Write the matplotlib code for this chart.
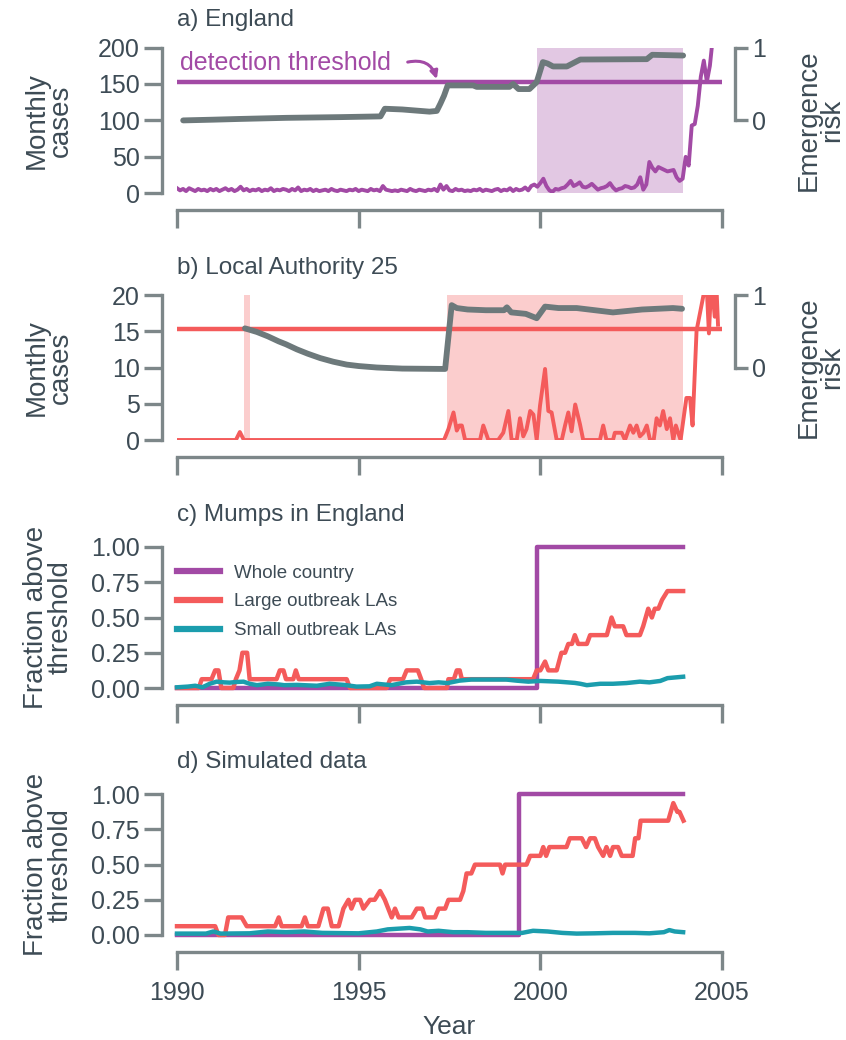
import numpy as np
import matplotlib
matplotlib.use("Agg")
import matplotlib.pyplot as plt
from matplotlib.ticker import FormatStrFormatter
from matplotlib.lines import Line2D

# ---------------- data ----------------
years_ticks = [1990, 1995, 2000, 2005]

# a) England monthly cases (monthly from Jan 1990)
eng_cases = [
    7, 4, 6, 3, 7, 5, 3, 6, 4, 5, 3, 6,
    4, 6, 3, 5, 7, 4, 6, 3, 5, 9, 4, 6,
    3, 5, 4, 6, 3, 5, 4, 7, 3, 5, 4, 6,
    5, 3, 6, 4, 8, 3, 5, 4, 6, 3, 5, 3,
    4, 5, 3, 6, 4, 3, 5, 4, 3, 5, 4, 6,
    3, 5, 4, 3, 6, 4, 5, 3, 10, 5, 4, 3,
    4, 3, 5, 4, 3, 6, 4, 3, 5, 4, 3, 5,
    4, 6, 3, 12, 5, 10, 4, 3, 6, 4, 5, 3,
    4, 3, 5, 4, 6, 3, 5, 4, 3, 5, 6, 3,
    5, 4, 7, 3, 6, 4, 5, 8, 4, 10, 12, 9,
    14, 20, 10, 4, 2, 6, 5, 7, 8, 12, 17, 10,
    12, 15, 9, 8, 10, 13, 9, 5, 7, 8, 10, 14,
    8, 4, 6, 7, 10, 9, 7, 8, 12, 22, 5, 12,
    43, 35, 30, 36, 34, 32, 30, 31, 32, 22, 17, 20,
    50, 38, 93, 95, 120, 160, 182, 153, 175, 215,
]
eng_threshold = 153
eng_risk_x = [1990.17, 1991.0, 1991.73, 1993.0, 1994.5, 1995.6, 1995.72, 1996.2,
              1996.95, 1997.15, 1997.25, 1997.35, 1997.45, 1998.15, 1998.25,
              1999.15, 1999.25, 1999.4, 1999.7, 1999.9, 2000.07, 2000.2, 2000.35,
              2000.73, 2001.0, 2001.1, 2002.93, 2003.08, 2003.93]
eng_risk_y = [0.0, 0.01, 0.02, 0.035, 0.045, 0.055, 0.16, 0.15,
              0.12, 0.13, 0.23, 0.34, 0.48, 0.48, 0.46,
              0.46, 0.50, 0.43, 0.43, 0.525, 0.80, 0.78, 0.74,
              0.74, 0.81, 0.835, 0.84, 0.90, 0.89]
eng_span = (1999.92, 2003.93)

# b) Local Authority 25
la_threshold = 15.3
la_cases_x = [1990.0, 1991.62, 1991.73, 1991.84, 1997.35, 1997.47, 1997.61, 1997.70,
              1997.77, 1997.84, 1997.93, 1998.34, 1998.43, 1998.57, 1998.84, 1998.98,
              1999.12, 1999.21, 1999.35, 1999.44, 1999.53, 1999.62, 1999.72, 1999.81,
              1999.90, 1999.99, 2000.13, 2000.22, 2000.31, 2000.45, 2000.59, 2000.68,
              2000.77, 2000.86, 2000.96, 2001.09, 2001.18, 2001.64, 2001.73, 2001.82,
              2002.0, 2002.05, 2002.24, 2002.33, 2002.47, 2002.56, 2002.65, 2002.74,
              2002.84, 2002.93, 2003.02, 2003.12, 2003.20, 2003.29, 2003.38, 2003.48,
              2003.57, 2003.66, 2003.73, 2003.86, 2004.02, 2004.12, 2004.19, 2004.30,
              2004.57, 2004.64, 2004.71, 2004.80, 2004.84, 2004.89]
la_cases_y = [0, 0, 1.1, 0, 0, 1.5, 3.8, 1.3,
              2, 2, 0, 0, 2, 0, 0, 1,
              4, 0, 0, 3, 0.5, 1.5, 4, 3.5,
              0, 4.7, 9.8, 4, 3.8, 0, 0, 2,
              3.8, 1.2, 4.9, 2.2, 0, 0, 2, 0,
              0, 1, 1, 0, 2, 1, 2, 0.5,
              1, 2, 0, 0, 3, 2, 4, 1.5,
              3, 0, 2, 0, 5.8, 5.8, 2, 15.1,
              22, 14.7, 22, 17, 22, 15.9]
la_risk_x = [1991.87, 1992.2, 1992.5, 1992.8, 1993.0, 1993.3, 1993.6, 1993.94,
             1994.3, 1994.67, 1995.0, 1995.5, 1996.2, 1997.38, 1997.56, 1997.7,
             1998.0, 1998.5, 1999.0, 1999.08, 1999.2, 1999.6, 1999.9, 2000.13,
             2000.5, 2001.0, 2001.5, 2002.0, 2002.8, 2003.65, 2003.9]
la_risk_y = [0.54, 0.49, 0.43, 0.36, 0.32, 0.25, 0.19, 0.13,
             0.08, 0.04, 0.02, 0.0, -0.015, -0.02, 0.86, 0.82,
             0.80, 0.79, 0.79, 0.83, 0.76, 0.74, 0.68, 0.84,
             0.82, 0.82, 0.79, 0.76, 0.80, 0.82, 0.81]
la_spans = [(1991.85, 1992.0), (1997.43, 2003.93)]

# c) Mumps in England
c_whole_x = [1990.0, 1999.92, 1999.92, 2003.93]
c_whole_y = [0.0, 0.0, 1.0, 1.0]
c_large_x = [1990.0, 1990.6, 1990.68, 1990.95, 1991.05, 1991.14, 1991.22, 1991.55,
             1991.62, 1991.72, 1991.8, 1991.93, 1992.0, 1992.74, 1992.83, 1992.93,
             1993.0, 1993.2, 1993.27, 1993.35, 1994.67, 1994.76, 1995.77, 1995.87,
             1996.22, 1996.32, 1996.63, 1996.72, 1996.8, 1997.43, 1997.47, 1997.62,
             1997.70, 1997.78, 1997.84, 1999.80, 1999.90, 2000.0, 2000.13, 2000.22,
             2000.45, 2000.58, 2000.68, 2000.77, 2000.87, 2000.95, 2001.04, 2001.28,
             2001.37, 2001.83, 2001.96, 2002.05, 2002.28, 2002.37, 2002.74, 2002.83,
             2002.97, 2003.07, 2003.15, 2003.25, 2003.35, 2003.5, 2003.93]
c_large_y = [0.0, 0.0, 0.0625, 0.0625, 0.125, 0.125, 0.0, 0.0,
             0.0625, 0.125, 0.25, 0.25, 0.0625, 0.0625, 0.125, 0.125,
             0.0625, 0.0625, 0.125, 0.0625, 0.0625, 0.0, 0.0, 0.0625,
             0.0625, 0.125, 0.125, 0.0625, 0.0, 0.0, 0.0625, 0.0625,
             0.125, 0.125, 0.0625, 0.0625, 0.125, 0.125, 0.1875, 0.125,
             0.125, 0.25, 0.25, 0.3125, 0.3125, 0.375, 0.3125, 0.3125,
             0.375, 0.375, 0.5, 0.4375, 0.4375, 0.375, 0.375, 0.4375,
             0.5625, 0.5, 0.5625, 0.5625, 0.625, 0.6875, 0.6875]
c_small_x = [1990.0, 1990.3, 1990.5, 1990.7, 1990.9, 1991.09, 1991.3, 1991.45,
             1991.6, 1991.83, 1992.0, 1992.2, 1992.5, 1992.8, 1992.95, 1993.3,
             1993.85, 1994.2, 1994.6, 1994.94, 1995.3, 1995.5, 1995.9, 1996.3,
             1996.6, 1996.95, 1997.2, 1997.45, 1997.77, 1998.1, 1999.06, 1999.35,
             1999.67, 2000.0, 2000.5, 2000.95, 2001.1, 2001.28, 2001.65, 2002.0,
             2002.37, 2002.74, 2003.0, 2003.3, 2003.5, 2003.93]
c_small_y = [0.005, 0.01, 0.016, 0.005, 0.03, 0.045, 0.04, 0.038,
             0.042, 0.045, 0.03, 0.02, 0.03, 0.025, 0.02, 0.022,
             0.016, 0.03, 0.022, 0.01, 0.012, 0.03, 0.02, 0.04,
             0.045, 0.035, 0.04, 0.035, 0.052, 0.06, 0.06, 0.052,
             0.045, 0.05, 0.045, 0.036, 0.03, 0.02, 0.03, 0.03,
             0.035, 0.045, 0.04, 0.05, 0.07, 0.08]

# d) Simulated data
d_whole_x = [1990.0, 1999.41, 1999.41, 2003.93]
d_whole_y = [0.0, 0.0, 1.0, 1.0]
d_large_x = [1990.0, 1991.05, 1991.14, 1991.32, 1991.41, 1991.78, 1991.92, 1992.7,
             1992.8, 1992.88, 1993.43, 1993.52, 1993.6, 1993.89, 1994.03, 1994.15,
             1994.26, 1994.45, 1994.58, 1994.72, 1994.8, 1994.9, 1995.04, 1995.13,
             1995.31, 1995.44, 1995.59, 1995.72, 1995.91, 1996.0, 1996.1, 1996.46,
             1996.6, 1996.75, 1996.83, 1997.1, 1997.2, 1997.38, 1997.47, 1997.79,
             1997.88, 1997.97, 1998.1, 1998.2, 1998.89, 1998.96, 1999.03, 1999.62,
             1999.72, 2000.0, 2000.08, 2000.16, 2000.25, 2000.72, 2000.81, 2001.14,
             2001.26, 2001.37, 2001.5, 2001.59, 2001.73, 2001.82, 2001.92, 2002.0,
             2002.14, 2002.24, 2002.54, 2002.61, 2002.7, 2002.76, 2003.52, 2003.66,
             2003.77, 2003.83, 2003.94]
d_large_y = [0.0625, 0.0625, 0.0, 0.0, 0.125, 0.125, 0.0625, 0.0625,
             0.125, 0.0625, 0.0625, 0.125, 0.0625, 0.0625, 0.1875, 0.1875,
             0.0625, 0.0625, 0.1875, 0.25, 0.1875, 0.25, 0.25, 0.1875,
             0.25, 0.25, 0.3125, 0.25, 0.125, 0.1875, 0.125, 0.125,
             0.1875, 0.1875, 0.125, 0.125, 0.1875, 0.1875, 0.25, 0.25,
             0.3125, 0.4375, 0.4375, 0.5, 0.5, 0.4375, 0.5, 0.5,
             0.5625, 0.5625, 0.625, 0.5625, 0.625, 0.625, 0.6875, 0.6875,
             0.625, 0.6875, 0.6875, 0.625, 0.5625, 0.625, 0.5625, 0.625,
             0.625, 0.5625, 0.5625, 0.6875, 0.6875, 0.8125, 0.8125, 0.9375,
             0.875, 0.875, 0.8125]
d_small_x = [1990.0, 1990.8, 1991.0, 1991.2, 1992.0, 1992.5, 1993.0, 1993.5,
             1994.0, 1995.0, 1995.5, 1995.8, 1996.1, 1996.4, 1996.7, 1996.9,
             1997.2, 1997.6, 1998.0, 1998.5, 1999.0, 1999.5, 1999.8, 2000.2,
             2000.6, 2001.0, 2001.5, 2002.0, 2002.6, 2003.0, 2003.4, 2003.55,
             2003.7, 2003.93]
d_small_y = [0.01, 0.01, 0.025, 0.01, 0.012, 0.025, 0.02, 0.025,
             0.015, 0.012, 0.025, 0.04, 0.045, 0.05, 0.04, 0.025,
             0.03, 0.02, 0.02, 0.015, 0.015, 0.015, 0.03, 0.025,
             0.015, 0.01, 0.012, 0.015, 0.015, 0.012, 0.02, 0.035,
             0.025, 0.02]

# ---------------- style ----------------
PURPLE = "#A24AA5"
RED = "#F45B5B"
TEAL = "#1B9DAD"
GRAY = "#6D797B"
SPINE = "#7D8789"
TEXT = "#3D4B55"

plt.rcParams["font.family"] = ["Liberation Sans", "DejaVu Sans"]
plt.rcParams["text.color"] = TEXT
plt.rcParams["axes.labelcolor"] = TEXT

W, H = 846, 1040
fig = plt.figure(figsize=(W / 100, H / 100), dpi=100)

X0, X1 = 177, 722
TICK_FS = 18
LABEL_FS = 20


def make_ax(top, bottom):
    return fig.add_axes([X0 / W, 1 - bottom / H, (X1 - X0) / W, (bottom - top) / H])


def style(ax, ylo, yhi, yticks, fmt=None, xlabels=False):
    ax.set_xlim(1990, 2005)
    ax.set_ylim(ylo, yhi)
    ax.patch.set_visible(False)
    for s in ["top", "right"]:
        ax.spines[s].set_visible(False)
    for s in ["left", "bottom"]:
        ax.spines[s].set_color(SPINE)
        ax.spines[s].set_linewidth(2.4)
    ax.spines["left"].set_position(("outward", 11))
    ax.spines["bottom"].set_position(("outward", 12))
    ax.spines["left"].set_bounds(yticks[0], yticks[-1])
    ax.spines["bottom"].set_bounds(1990, 2005)
    ax.set_yticks(yticks)
    ax.set_xticks(years_ticks)
    if fmt:
        ax.yaxis.set_major_formatter(FormatStrFormatter(fmt))
    ax.tick_params(axis="both", which="major", length=13, width=2.4, color=SPINE,
                   labelsize=TICK_FS, labelcolor=TEXT, pad=3)
    ax.tick_params(axis="x", pad=8)
    if not xlabels:
        ax.set_xticklabels([])


def twin(ax):
    tw = ax.twinx()
    tw.set_ylim(-1, 1)
    tw.set_yticks([0, 1])
    for s in ["top", "left", "bottom"]:
        tw.spines[s].set_visible(False)
    tw.spines["right"].set_color(SPINE)
    tw.spines["right"].set_linewidth(2.4)
    tw.spines["right"].set_position(("outward", 9.5))
    tw.spines["right"].set_bounds(0, 1)
    tw.tick_params(axis="y", length=9, width=2.4, color=SPINE, labelsize=TICK_FS,
                   labelcolor=TEXT, pad=3)
    tw.set_ylabel("Emergence\nrisk", fontsize=LABEL_FS, linespacing=0.9)
    tw.yaxis.set_label_coords(1.135, 0.5)
    return tw


# ---- a) England ----
axa = make_ax(47.5, 193.3)
style(axa, 0, 200, [0, 50, 100, 150, 200])
axa.axvspan(*eng_span, color=PURPLE, alpha=0.3, lw=0)
axa.axhline(eng_threshold, color=PURPLE, lw=3.2, xmin=0, xmax=1)
eng_x = 1990 + np.arange(len(eng_cases)) / 12
axa.plot(eng_x, eng_cases, color=PURPLE, lw=2.8, zorder=4)
axa.set_ylabel("Monthly\ncases", fontsize=LABEL_FS, linespacing=0.9)
axa.yaxis.set_label_coords(-0.19, 0.5)
axa.text(1990.08, 179, "detection threshold", color=PURPLE, fontsize=18,
         ha="left", va="center")
axa.annotate("", xy=(1997.15, 156.5), xytext=(1996.35, 180),
             arrowprops=dict(arrowstyle="-|>,head_length=0.45,head_width=0.22",
                             color=PURPLE, lw=2.2, shrinkA=0, shrinkB=0,
                             connectionstyle="arc3,rad=-0.45"))
twa = twin(axa)
twa.plot(eng_risk_x, eng_risk_y, color=GRAY, lw=4.2, solid_capstyle="round")

# ---- b) Local Authority 25 ----
axb = make_ax(295, 440)
style(axb, 0, 20, [0, 5, 10, 15, 20])
for s0, s1 in la_spans:
    axb.axvspan(s0, s1, color=RED, alpha=0.3, lw=0)
axb.axhline(la_threshold, color=RED, lw=3.2)
axb.plot(la_cases_x, la_cases_y, color=RED, lw=2.8, zorder=4)
axb.set_ylabel("Monthly\ncases", fontsize=LABEL_FS, linespacing=0.9)
axb.yaxis.set_label_coords(-0.19, 0.5)
twb = twin(axb)
twb.plot(la_risk_x, la_risk_y, color=GRAY, lw=4.2, solid_capstyle="round")

# ---- c) Mumps in England ----
axc = make_ax(547, 688)
style(axc, 0, 1, [0, 0.25, 0.5, 0.75, 1.0], fmt="%.2f")
axc.plot(c_whole_x, c_whole_y, color=PURPLE, lw=3.2, clip_on=False)
axc.plot(c_large_x, c_large_y, color=RED, lw=3.2, clip_on=False)
axc.plot(c_small_x, c_small_y, color=TEAL, lw=3.2, clip_on=False)
axc.set_ylabel("Fraction above\nthreshold", fontsize=LABEL_FS, linespacing=0.9)
axc.yaxis.set_label_coords(-0.19, 0.5)
handles = [Line2D([], [], color=PURPLE, lw=4.5),
           Line2D([], [], color=RED, lw=4.5),
           Line2D([], [], color=TEAL, lw=4.5)]
axc.legend(handles, ["Whole country", "Large outbreak LAs", "Small outbreak LAs"],
           loc="upper left", bbox_to_anchor=(0.0, 0.875), frameon=False,
           fontsize=13.5, handlelength=2.3, handletextpad=0.75, labelspacing=0.62,
           borderaxespad=0, borderpad=0)

# ---- d) Simulated data ----
axd = make_ax(794.3, 935)
style(axd, 0, 1, [0, 0.25, 0.5, 0.75, 1.0], fmt="%.2f", xlabels=True)
axd.plot(d_whole_x, d_whole_y, color=PURPLE, lw=3.2, clip_on=False)
axd.plot(d_large_x, d_large_y, color=RED, lw=3.2, clip_on=False)
axd.plot(d_small_x, d_small_y, color=TEAL, lw=3.2, clip_on=False)
axd.set_ylabel("Fraction above\nthreshold", fontsize=LABEL_FS, linespacing=0.9)
axd.yaxis.set_label_coords(-0.19, 0.5)
axd.set_xlabel("Year", fontsize=19, labelpad=7)

# titles
for txt, yc in [("a) England", 20), ("b) Local Authority 25", 268),
                ("c) Mumps in England", 515), ("d) Simulated data", 762)]:
    fig.text(X0 / W, 1 - yc / H, txt, fontsize=17.5, ha="left", va="center", color=TEXT)

fig.savefig("out.png", dpi=100)
